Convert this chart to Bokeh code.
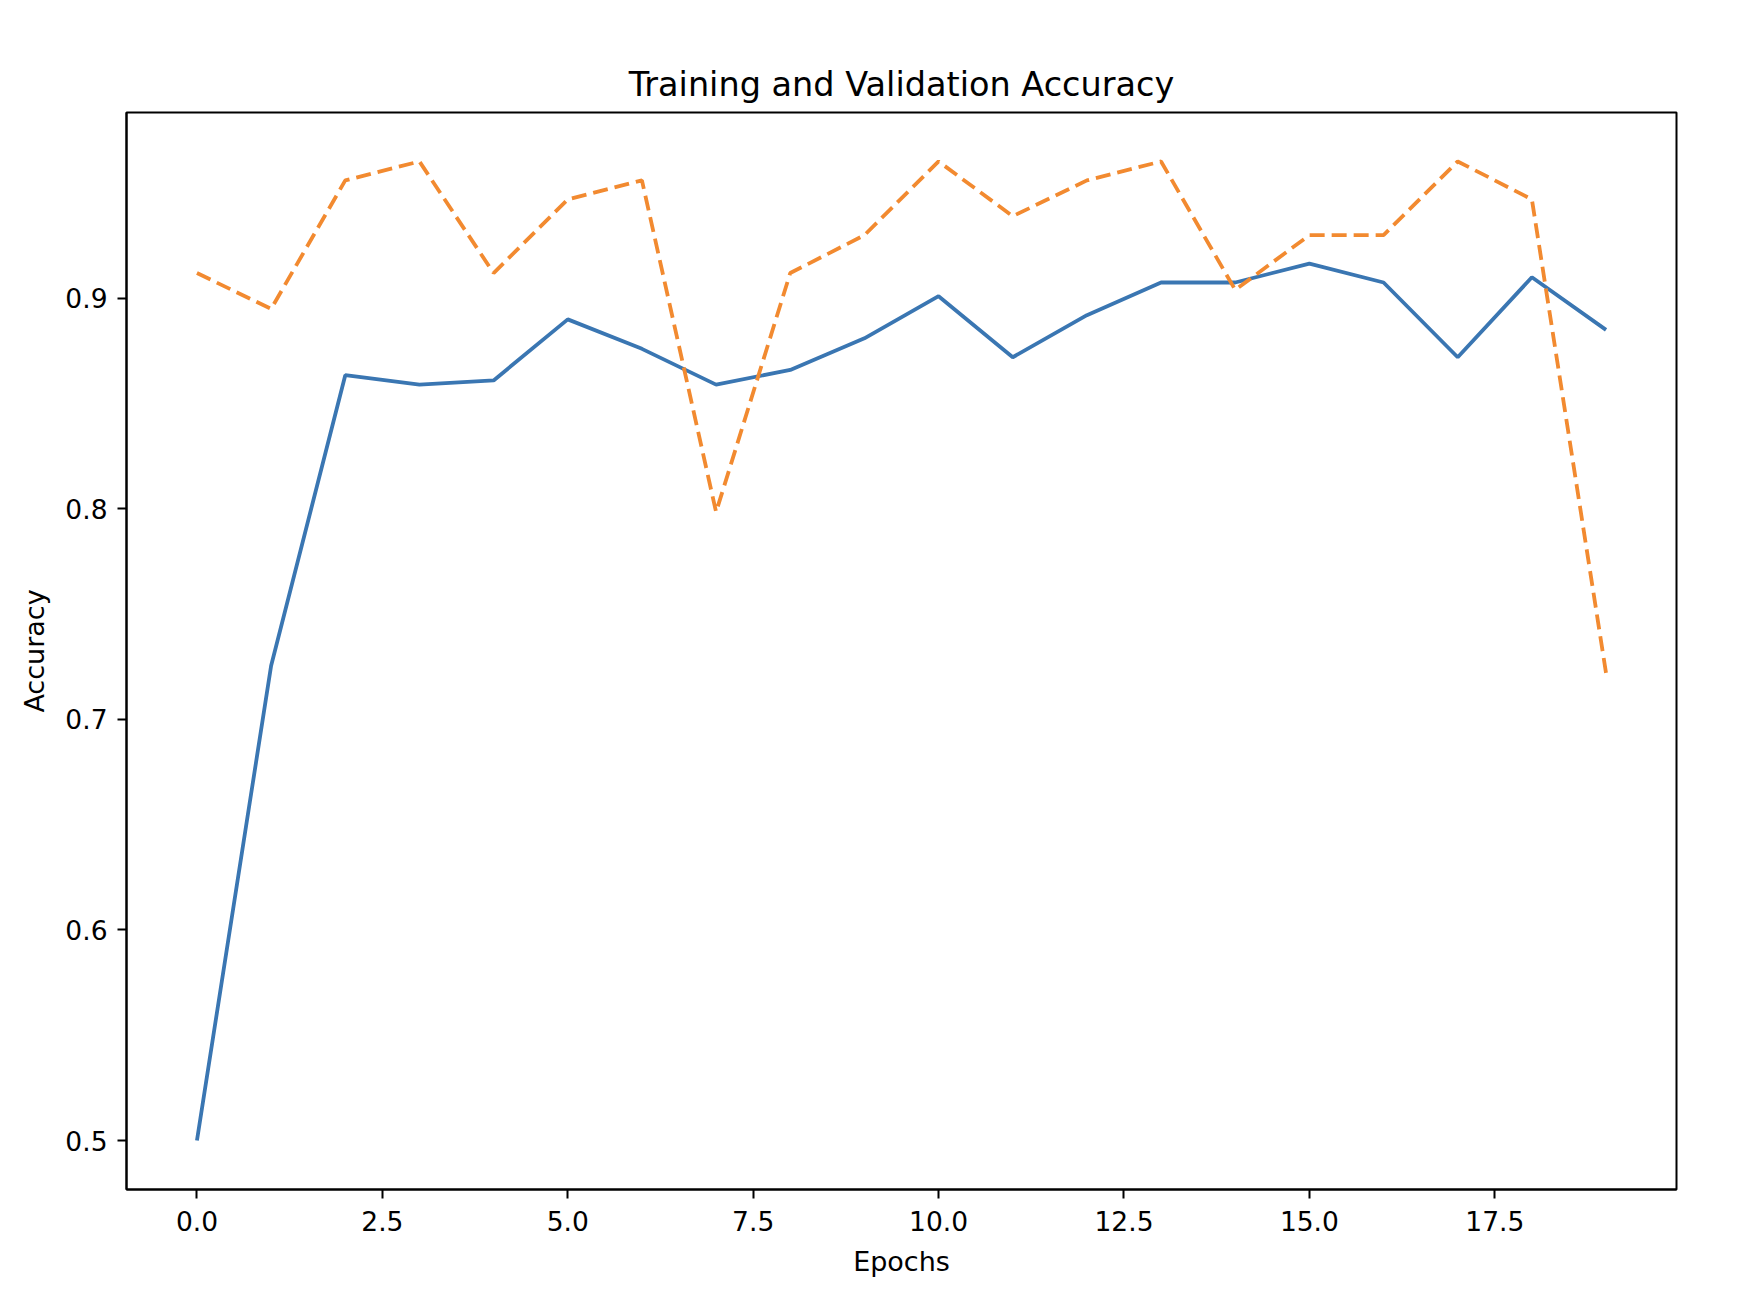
from bokeh.plotting import figure
from bokeh.models import Range1d, FixedTicker, NumeralTickFormatter
from bokeh.embed import file_html
from bokeh.resources import INLINE

epochs = list(range(20))
train_acc = [0.500, 0.7255, 0.8635, 0.859, 0.861, 0.890, 0.876, 0.859, 0.866, 0.881,
             0.901, 0.872, 0.892, 0.9075, 0.9075, 0.9165, 0.9075, 0.872, 0.910, 0.885]
val_acc = [0.912, 0.895, 0.956, 0.965, 0.912, 0.947, 0.956, 0.7985, 0.912, 0.930,
           0.965, 0.939, 0.956, 0.965, 0.904, 0.930, 0.930, 0.965, 0.947, 0.722]
x_ticks = [0.0, 2.5, 5.0, 7.5, 10.0, 12.5, 15.0, 17.5]
y_ticks = [0.5, 0.6, 0.7, 0.8, 0.9]

FONT = "DejaVu Sans"

p = figure(width=1740, height=1304, output_backend="svg", toolbar_location=None,
           title="Training and Validation Accuracy",
           x_axis_label="Epochs", y_axis_label="Accuracy",
           min_border_left=126, min_border_right=64, min_border_top=112, min_border_bottom=115)

p.x_range = Range1d(-0.95, 19.95)
p.y_range = Range1d(0.47675, 0.98825)

p.line(epochs, train_acc, line_color="#3a76b2", line_width=3.8)
p.line(epochs, val_acc, line_color="#f28a30", line_width=3.8, line_dash="15 7")

p.grid.visible = False
p.outline_line_color = "black"
p.outline_line_width = 2
p.background_fill_color = "white"
p.border_fill_color = "white"

p.title.text_font = FONT
p.title.text_font_size = "33.5px"
p.title.text_font_style = "normal"
p.title.align = "center"
p.title.text_color = "black"
p.title.standoff = 18

for ax in (p.xaxis[0], p.yaxis[0]):
    ax.axis_line_color = "black"
    ax.axis_line_width = 2
    ax.major_tick_line_color = "black"
    ax.major_tick_line_width = 2
    ax.major_tick_in = 0
    ax.major_tick_out = 9
    ax.minor_tick_line_color = None
    ax.major_label_text_font = FONT
    ax.major_label_text_font_size = "26.5px"
    ax.major_label_text_color = "black"
    ax.axis_label_text_font = FONT
    ax.axis_label_text_font_size = "27px"
    ax.axis_label_text_font_style = "normal"
    ax.axis_label_text_color = "black"
    ax.axis_label_standoff = 12
    ax.formatter = NumeralTickFormatter(format="0.0")

p.xaxis[0].major_label_standoff = 12
p.yaxis[0].major_label_standoff = 10

p.xaxis[0].ticker = FixedTicker(ticks=x_ticks)
p.yaxis[0].ticker = FixedTicker(ticks=y_ticks)

open("out.html", "w").write(file_html(p, INLINE))
